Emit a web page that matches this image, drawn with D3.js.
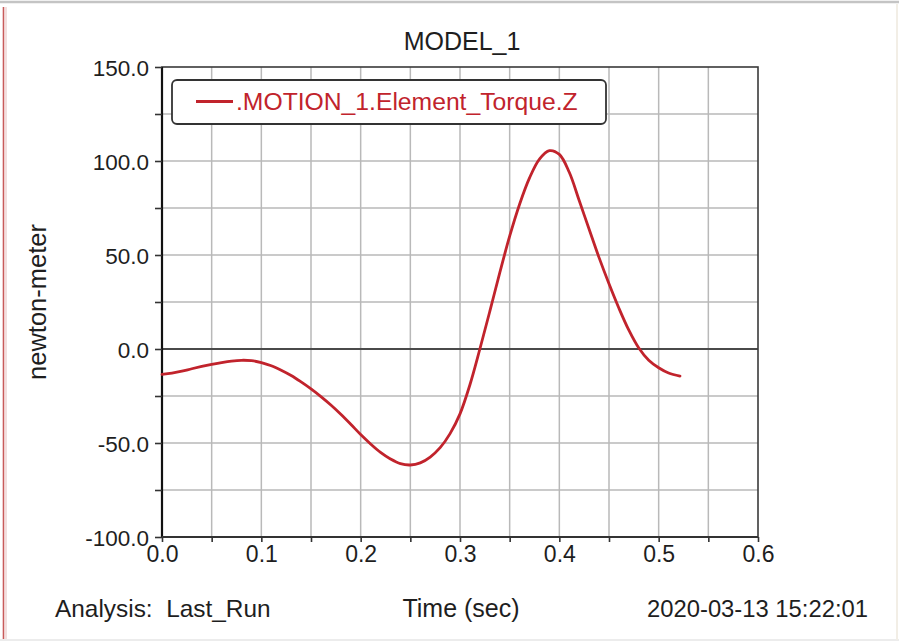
<!DOCTYPE html>
<html>
<head>
<meta charset="utf-8">
<script src="https://cdn.jsdelivr.net/npm/d3@7"></script>
<style>
  html, body { margin: 0; padding: 0; background: #ffffff; }
  svg { display: block; font-family: "Liberation Sans", Arial, sans-serif; }
</style>
</head>
<body>
<svg id="chart" width="899" height="644"></svg>
<script>
// Torque trace of MOTION_1 over the last run
const timeSec = [0, 0.01, 0.02, 0.03, 0.04, 0.05, 0.06, 0.07, 0.08, 0.09,
  0.10, 0.11, 0.12, 0.13, 0.14, 0.15, 0.16, 0.17, 0.18, 0.19,
  0.20, 0.21, 0.22, 0.23, 0.24, 0.25, 0.26, 0.27, 0.28, 0.29,
  0.30, 0.31, 0.32, 0.33, 0.34, 0.35, 0.36, 0.37, 0.38, 0.39,
  0.40, 0.41, 0.42, 0.43, 0.44, 0.45, 0.46, 0.47, 0.48, 0.49,
  0.50, 0.51, 0.5215];
const torqueZ = [-13.5, -12.8, -11.8, -10.5, -9.3, -8.2, -7.2, -6.4, -6.0, -6.2,
  -7.2, -8.9, -11.3, -14.1, -17.5, -21.2, -25.3, -29.8, -34.7, -40.0,
  -45.5, -50.5, -55.0, -58.5, -61.0, -61.7, -60.6, -57.5, -52.5, -45.0,
  -34.5, -19.0, 0.0, 20.0, 40.5, 60.0, 77.0, 91.0, 101.0, 105.5,
  103.5, 94.0, 79.0, 63.7, 48.6, 34.7, 21.7, 10.0, 0.5, -6.0,
  -10.0, -12.8, -14.4];

const xMajorTicks = [0, 0.1, 0.2, 0.3, 0.4, 0.5, 0.6];
const xMinorTicks = [0.05, 0.15, 0.25, 0.35, 0.45, 0.55];
const yMajorTicks = [-100, -50, 0, 50, 100, 150];
const yMinorTicks = [-75, -25, 25, 75, 125];

const titleText = "MODEL_1";
const seriesName = ".MOTION_1.Element_Torque.Z";
const yTitle = "newton-meter";
const xTitle = "Time (sec)";
const analysisText = "Analysis:  Last_Run";
const stampText = "2020-03-13 15:22:01";

const W = 899, H = 644;
const plot = { left: 162, right: 758, top: 67, bottom: 537 };
const ink = "#1e1e1e";
const red = "#c1232c";

const svg = d3.select("#chart");

// page frame
svg.append("rect").attr("x", 0).attr("y", 0).attr("width", W).attr("height", H).attr("fill", "#ffffff");
svg.append("line").attr("x1", 0).attr("x2", W).attr("y1", 2).attr("y2", 2)
  .attr("stroke", "#c4c4c4").attr("stroke-width", 2.5);
svg.append("line").attr("x1", 3.5).attr("x2", 3.5).attr("y1", 7).attr("y2", H - 4)
  .attr("stroke", "#c85a5a").attr("stroke-width", 1.6);
svg.append("line").attr("x1", 6).attr("x2", 6).attr("y1", 7).attr("y2", H - 4)
  .attr("stroke", "#f3dede").attr("stroke-width", 2);
svg.append("line").attr("x1", 0).attr("x2", W).attr("y1", H - 4).attr("y2", H - 4)
  .attr("stroke", "#ececec").attr("stroke-width", 2);
svg.append("line").attr("x1", W - 2).attr("x2", W - 2).attr("y1", 4).attr("y2", H - 4)
  .attr("stroke", "#f2eee6").attr("stroke-width", 2);

const x = d3.scaleLinear().domain([0, 0.6]).range([plot.left, plot.right]);
const y = d3.scaleLinear().domain([-100, 150]).range([plot.bottom, plot.top]);

// grid lines
const grid = svg.append("g").attr("stroke", "#b9b9b9").attr("stroke-width", 1.5);
grid.selectAll("line.vx").data(xMajorTicks.concat(xMinorTicks).filter(d => d > 0 && d < 0.6))
  .join("line").attr("class", "vx")
  .attr("x1", d => x(d)).attr("x2", d => x(d)).attr("y1", plot.top).attr("y2", plot.bottom);
grid.selectAll("line.hy").data(yMajorTicks.concat(yMinorTicks).filter(d => d > -100 && d < 150 && d !== 0))
  .join("line").attr("class", "hy")
  .attr("x1", plot.left).attr("x2", plot.right).attr("y1", d => y(d)).attr("y2", d => y(d));

// zero reference line
svg.append("line").attr("x1", plot.left).attr("x2", plot.right)
  .attr("y1", y(0)).attr("y2", y(0)).attr("stroke", "#4a4a4a").attr("stroke-width", 2.2);

// plot border
svg.append("rect").attr("x", plot.left).attr("y", plot.top)
  .attr("width", plot.right - plot.left).attr("height", plot.bottom - plot.top)
  .attr("fill", "none").attr("stroke", "#3a3a3a").attr("stroke-width", 1.6);
svg.append("line").attr("x1", plot.left).attr("x2", plot.left).attr("y1", plot.top).attr("y2", plot.bottom)
  .attr("stroke", "#111").attr("stroke-width", 2.2);
svg.append("line").attr("x1", plot.left).attr("x2", plot.right).attr("y1", plot.bottom).attr("y2", plot.bottom)
  .attr("stroke", "#333").attr("stroke-width", 2.2);

// tick label format with a plain hyphen for negatives
const fmt = d => d3.format(".1f")(d).replace("\u2212", "-");

// axes
const yAxis = d3.axisLeft(y).tickValues(yMajorTicks.concat(yMinorTicks).sort((a, b) => a - b))
  .tickSize(7).tickPadding(6)
  .tickFormat(d => yMajorTicks.includes(d) ? fmt(d) : "");
const gy = svg.append("g").attr("transform", `translate(${plot.left},0)`).call(yAxis);
gy.select(".domain").remove();
gy.selectAll(".tick line").attr("stroke", "#333").attr("stroke-width", 1.6);
gy.selectAll(".tick text").attr("fill", ink).attr("font-size", 22.5).attr("dy", "0.36em");

const xAxis = d3.axisBottom(x).tickValues(xMajorTicks.concat(xMinorTicks).sort((a, b) => a - b))
  .tickSize(5).tickPadding(4)
  .tickFormat(d => xMajorTicks.includes(d) ? fmt(d) : "");
const gx = svg.append("g").attr("transform", `translate(0,${plot.bottom})`).call(xAxis);
gx.select(".domain").remove();
gx.selectAll(".tick line").attr("stroke", "#333").attr("stroke-width", 1.6);
gx.selectAll(".tick text").attr("fill", ink).attr("font-size", 23);

// torque curve
const line = d3.line().x((d, i) => x(timeSec[i])).y(d => y(d)).curve(d3.curveCatmullRom.alpha(0.5));
svg.append("path").datum(torqueZ).attr("d", line)
  .attr("fill", "none").attr("stroke", red).attr("stroke-width", 2.8)
  .attr("stroke-linejoin", "round").attr("stroke-linecap", "round");

// legend
const lg = svg.append("g");
lg.append("rect").attr("x", 172).attr("y", 80).attr("width", 434).attr("height", 44)
  .attr("rx", 5).attr("fill", "#ffffff").attr("stroke", "#333").attr("stroke-width", 1.8);
lg.append("line").attr("x1", 196).attr("x2", 233).attr("y1", 101.5).attr("y2", 101.5)
  .attr("stroke", red).attr("stroke-width", 3);
lg.append("text").attr("x", 236).attr("y", 110).attr("fill", red)
  .attr("font-size", 24.7).text(seriesName);

// titles
svg.append("text").attr("x", 462).attr("y", 50).attr("text-anchor", "middle")
  .attr("fill", ink).attr("font-size", 25).text(titleText);
svg.append("text").attr("transform", "translate(46,302) rotate(-90)").attr("text-anchor", "middle")
  .attr("fill", ink).attr("font-size", 25.5).text(yTitle);
svg.append("text").attr("x", 55).attr("y", 617).attr("fill", ink).attr("font-size", 24.4)
  .attr("xml:space", "preserve").style("white-space", "pre").text(analysisText);
svg.append("text").attr("x", 461).attr("y", 617).attr("text-anchor", "middle")
  .attr("fill", ink).attr("font-size", 25).text(xTitle);
svg.append("text").attr("x", 868).attr("y", 617).attr("text-anchor", "end")
  .attr("fill", ink).attr("font-size", 23.8).text(stampText);
</script>
</body>
</html>
